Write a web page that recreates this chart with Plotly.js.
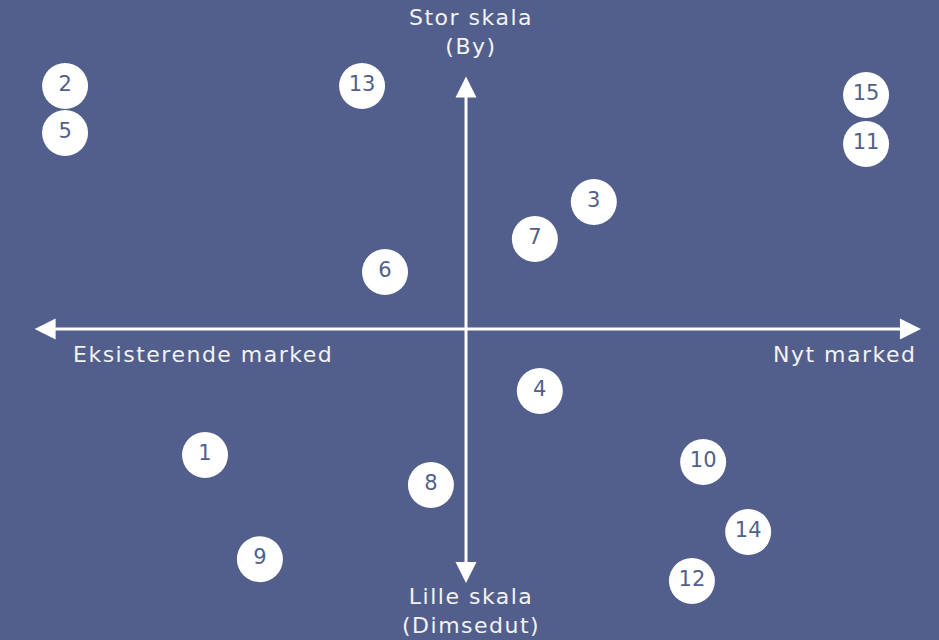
<!DOCTYPE html>
<html><head><meta charset="utf-8">
<script src="https://cdn.plot.ly/plotly-3.0.1.min.js"></script>
<style>html,body{margin:0;padding:0;background:#525f8c;}#chart{width:939px;height:640px;}
.annotation-text{letter-spacing:1.5px;}</style>
</head><body><div id="chart"></div>
<script>
const labels = ["1","2","3","4","5","6","7","8","9","10","11","12","13","14","15"];
const xs = [-5.80,-8.91,2.84,1.64,-8.91,-1.80,1.53,-0.78,-4.58,5.27,8.89,5.02,-2.31,6.27,8.89];
const ys = [-4.96,9.57,5.00,-2.44,7.72,2.24,3.54,-6.14,-9.06,-5.24,7.28,-9.92,9.57,-7.99,9.21];
const axisLabels = {top:"Stor skala<br>(By)", bottom:"Lille skala<br>(Dimsedut)", left:"Eksisterende marked", right:"Nyt marked"};
const axisEnds = {left:-9.62, right:10.11, top:10.0, bottom:-10.0};

const bg = "#525f8c";
const fontFam = "DejaVu Sans, sans-serif";

const trace = {
  x: xs, y: ys, text: labels, mode: "markers+text", type: "scatter",
  marker: {size: 46, color: "#ffffff", line: {width: 0}},
  textfont: {family: fontFam, size: 21, color: bg},
  textposition: "middle center", hoverinfo: "none", cliponaxis: false
};

const layout = {
  width: 939, height: 640,
  margin: {l:0, r:0, t:0, b:0},
  paper_bgcolor: bg, plot_bgcolor: bg,
  showlegend: false,
  xaxis: {range: [-10.356, 10.511], visible: false, fixedrange: true},
  yaxis: {range: [-12.244, 12.953], visible: false, fixedrange: true},
  annotations: [
    {x: axisEnds.right, y: 0, ax: axisEnds.left, ay: 0, xref:"x", yref:"y", axref:"x", ayref:"y",
     showarrow: true, arrowside: "end+start", arrowhead: 2, arrowsize: 1.4, arrowwidth: 3, arrowcolor: "#ffffff", text: ""},
    {x: 0, y: axisEnds.bottom, ax: 0, ay: axisEnds.top, xref:"x", yref:"y", axref:"x", ayref:"y",
     showarrow: true, arrowside: "end+start", arrowhead: 2, arrowsize: 1.4, arrowwidth: 3, arrowcolor: "#ffffff", text: ""},
    {x: 0.1, y: 1, xref:"x", yref:"paper", yanchor:"top", yshift: -3, showarrow:false, text: axisLabels.top,
     font:{family: fontFam, size: 22, color:"#f2f2f2"}, align:"center"},
    {x: 0.1, y: 0, xref:"x", yref:"paper", yanchor:"bottom", yshift: 0, showarrow:false, text: axisLabels.bottom,
     font:{family: fontFam, size: 22, color:"#f2f2f2"}, align:"center"},
    {x: -8.78, y: -1.0, xref:"x", yref:"y", xanchor:"left", yanchor:"middle", showarrow:false, text: axisLabels.left,
     font:{family: fontFam, size: 22, color:"#f2f2f2"}},
    {x: 10.07, y: -1.0, xref:"x", yref:"y", xanchor:"right", yanchor:"middle", showarrow:false, text: axisLabels.right,
     font:{family: fontFam, size: 22, color:"#f2f2f2"}}
  ]
};

Plotly.newPlot("chart", [trace], layout, {displayModeBar: false, staticPlot: true});
</script>
</body></html>
